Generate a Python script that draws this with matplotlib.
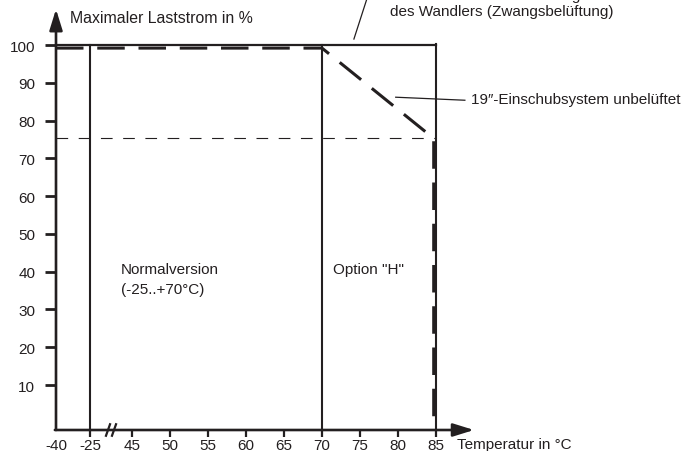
import numpy as np
import matplotlib
matplotlib.use("Agg")
import matplotlib.pyplot as plt

plt.rcParams['font.family'] = ['Liberation Sans', 'DejaVu Sans']

# Data
ylevels = [10, 20, 30, 40, 50, 60, 70, 80, 90, 100]
xticks_t = [-40, -25, 45, 50, 55, 60, 65, 70, 75, 80, 85]
xlabels = ['-40', '-25', '45', '50', '55', '60', '65', '70', '75', '80', '85']
# derating curve (19"-Einschubsystem unbelueftet)
derate_t = [-40, 70, 84.7, 84.7]
derate_y = [99.2, 99.2, 75.3, -1.9]
# frame of the working area (Zwangsbelueftung)
frame_top = 100
t_min, t_normal_lo, t_normal_hi, t_max = -40, -25, 70, 85
limit_75 = 75.3
y_axis0 = -1.9

INK = '#231f20'

# broken temperature axis: -40..-25 compressed, gap to 45, then linear
knots_t = np.array([-40.0, -25.0, 45.0, 85.0])
knots_u = np.array([0.0, 34.0, 76.0, 380.0])
slope_l = 34.0 / 15.0
slope_r = 7.6


def fwd(t):
    t = np.asarray(t, dtype=float)
    u = np.interp(t, knots_t, knots_u)
    u = np.where(t < -40, (t + 40) * slope_l, u)
    u = np.where(t > 85, 380 + (t - 85) * slope_r, u)
    return u


def inv(u):
    u = np.asarray(u, dtype=float)
    t = np.interp(u, knots_u, knots_t)
    t = np.where(u < 0, -40 + u / slope_l, t)
    t = np.where(u > 380, 85 + (u - 380) / slope_r, t)
    return t


fig = plt.figure(figsize=(6.92, 4.52), dpi=100)
ax = fig.add_axes([0, 0, 1, 1])
ax.set_xscale('function', functions=(fwd, inv))
ax.set_xlim(float(inv(-56)), float(inv(636)))
ax.set_ylim(-7.46, 112.2)

for s in ['top', 'right', 'left', 'bottom']:
    ax.spines[s].set_visible(False)
ax.spines['left'].set_position(('data', t_min))
ax.spines['bottom'].set_position(('data', y_axis0))

ax.set_yticks(ylevels)
ax.set_yticklabels([str(v) for v in ylevels])
ax.set_xticks(xticks_t)
ax.set_xticklabels(xlabels)
ax.xaxis.set_minor_locator(matplotlib.ticker.NullLocator())
ax.yaxis.set_minor_locator(matplotlib.ticker.NullLocator())
ax.tick_params(axis='y', direction='out', length=8, width=2, color=INK,
               labelsize=11, labelcolor=INK, pad=7)
ax.tick_params(axis='x', direction='out', length=5, width=1.6, color=INK,
               labelsize=11, labelcolor=INK, pad=1)
ax.xaxis.get_major_ticks()[0].tick1line.set_visible(False)

# axes with arrows
arrow = dict(arrowstyle='-|>,head_length=0.9,head_width=0.28', lw=1.9,
             color=INK, shrinkA=0, shrinkB=0, mutation_scale=14)
ax.annotate('', xy=(t_min, 109.5), xytext=(t_min, y_axis0), arrowprops=arrow)
ax.annotate('', xy=(90.0, y_axis0), xytext=(t_min - 0.5, y_axis0), arrowprops=arrow)

# axis break marks
for tb in [5, 15]:
    ax.plot([tb - 4, tb + 4], [y_axis0 - 1.8, y_axis0 + 1.8], color=INK, lw=1.6,
            solid_capstyle='butt')

# frame
ax.plot([t_min, t_max], [frame_top, frame_top], color=INK, lw=1.6)
ax.plot([t_max, t_max], [frame_top + 0.2, y_axis0], color=INK, lw=1.5)
for tv in [t_normal_lo, t_normal_hi]:
    ax.plot([tv, tv], [frame_top, y_axis0], color=INK, lw=1.5)

# 75 % guide line
ax.plot([t_min, t_max], [limit_75, limit_75], color=INK, lw=0.8,
        linestyle=(0, (10.5, 9.5)))

# derating curve
ax.plot(derate_t, derate_y, color=INK, lw=2.2, linestyle=(0, (9, 4.5)),
        solid_capstyle='butt', dash_capstyle='butt')

# labels
ax.text(-34, 107.4, 'Maximaler Laststrom in %', fontsize=11.4, color=INK,
        va='center', ha='left')
ax.text(87.8, -5.6, 'Temperatur in °C', fontsize=11, color=INK,
        va='center', ha='left')
ax.text(26.7, 40.7, 'Normalversion', fontsize=11, color=INK,
        va='center', ha='left')
ax.text(26.7, 35.4, '(-25..+70°C)', fontsize=11, color=INK,
        va='center', ha='left')
ax.text(71.4, 40.7, 'Option "H"', fontsize=11, color=INK, va='center', ha='left')

# annotation: 19"-Einschubsystem
ax.plot([79.7, 88.8], [86.2, 85.4], color=INK, lw=0.9)
ax.text(89.6, 85.8, '19″-Einschubsystem unbelüftet', fontsize=11, color=INK,
        va='center', ha='left')

# annotation: forced ventilation (first line cut off at top)
ax.plot([74.2, 75.9], [101.6, 112.2], color=INK, lw=0.9)
ax.text(79.0, 113.2, 'bei ausreichender Belüftung', fontsize=11, color=INK,
        va='center', ha='left')
ax.text(79.0, 109.0, 'des Wandlers (Zwangsbelüftung)', fontsize=11, color=INK,
        va='center', ha='left')

fig.savefig('out.png', dpi=100)
